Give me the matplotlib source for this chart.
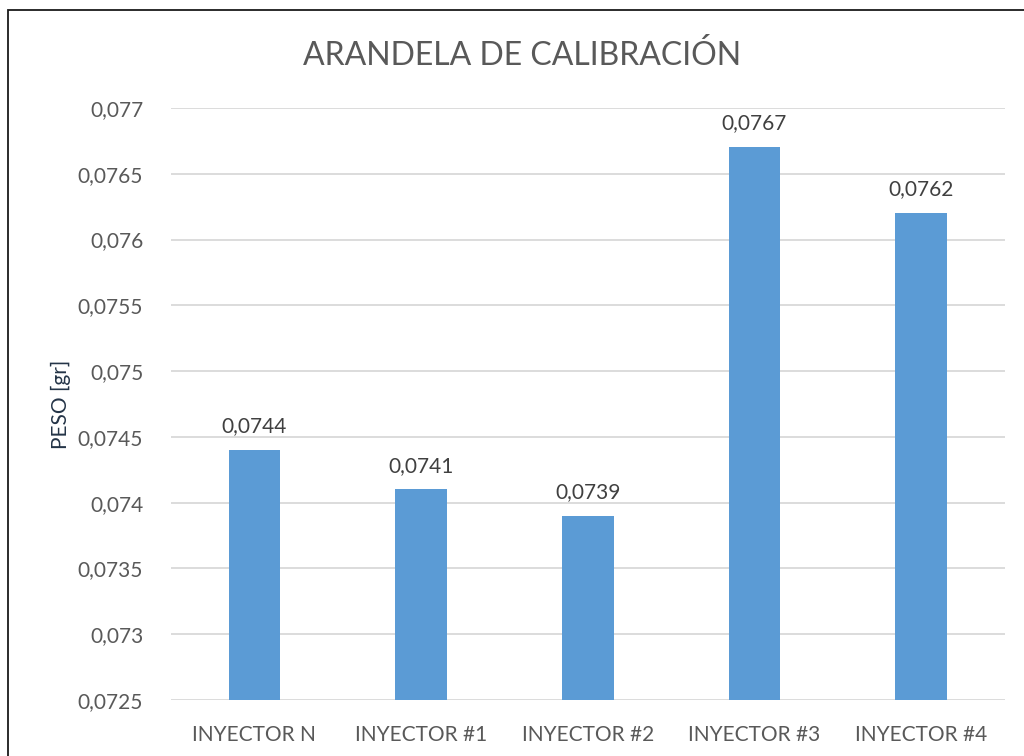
import matplotlib
matplotlib.use("Agg")
import matplotlib.pyplot as plt
from matplotlib.patches import Rectangle
import numpy as np

plt.rcParams['font.family'] = ['Lato', 'DejaVu Sans']

# Weights of the calibration washer per injector
injectors = ['INYECTOR N', 'INYECTOR #1', 'INYECTOR #2', 'INYECTOR #3', 'INYECTOR #4']
peso = [0.0744, 0.0741, 0.0739, 0.0767, 0.0762]
y_ticks = [0.0725, 0.073, 0.0735, 0.074, 0.0745, 0.075, 0.0755, 0.076, 0.0765, 0.077]


def coma(v):
    return ('%g' % v).replace('.', ',')


fig = plt.figure(figsize=(10.24, 7.56), dpi=100)
ax = fig.add_axes([0.167, 0.0741, 0.814, 0.7831])

x = np.arange(len(injectors))
bars = ax.bar(x, peso, width=0.31, color='#5B9BD5', zorder=3)

for b, v in zip(bars, peso):
    ax.annotate(coma(v), (b.get_x() + b.get_width() / 2, v), xytext=(0, 10),
                textcoords='offset points', ha='center', va='bottom',
                fontsize=15, color='#404040')

ax.set_xlim(-0.5, len(injectors) - 0.5)
ax.set_ylim(0.0725, 0.077)
ax.set_yticks(y_ticks)
ax.set_yticklabels([coma(t) for t in y_ticks])
ax.set_xticks(x)
ax.set_xticklabels(injectors)
ax.tick_params(axis='both', length=0, labelsize=15, labelcolor='#595959')
ax.tick_params(axis='y', pad=20)
ax.tick_params(axis='x', pad=18)
ax.grid(axis='y', color='#D9D9D9', linewidth=1.3, zorder=0)
for s in ax.spines.values():
    s.set_visible(False)

ax.set_ylabel('PESO [gr]', fontsize=15, color='#243447', labelpad=5)
fig.text(0.51, 0.927, 'ARANDELA DE CALIBRACIÓN', ha='center', va='center',
         fontsize=23, color='#595959')

# chart frame, cut by the right and bottom edges
fig.patches.append(Rectangle((8 / 1024, -0.2), 1.2, 0.2 + (756 - 10) / 756,
                             transform=fig.transFigure, fill=False,
                             edgecolor='#1a1a1a', linewidth=1.3))

fig.savefig('out.png', dpi=100)
